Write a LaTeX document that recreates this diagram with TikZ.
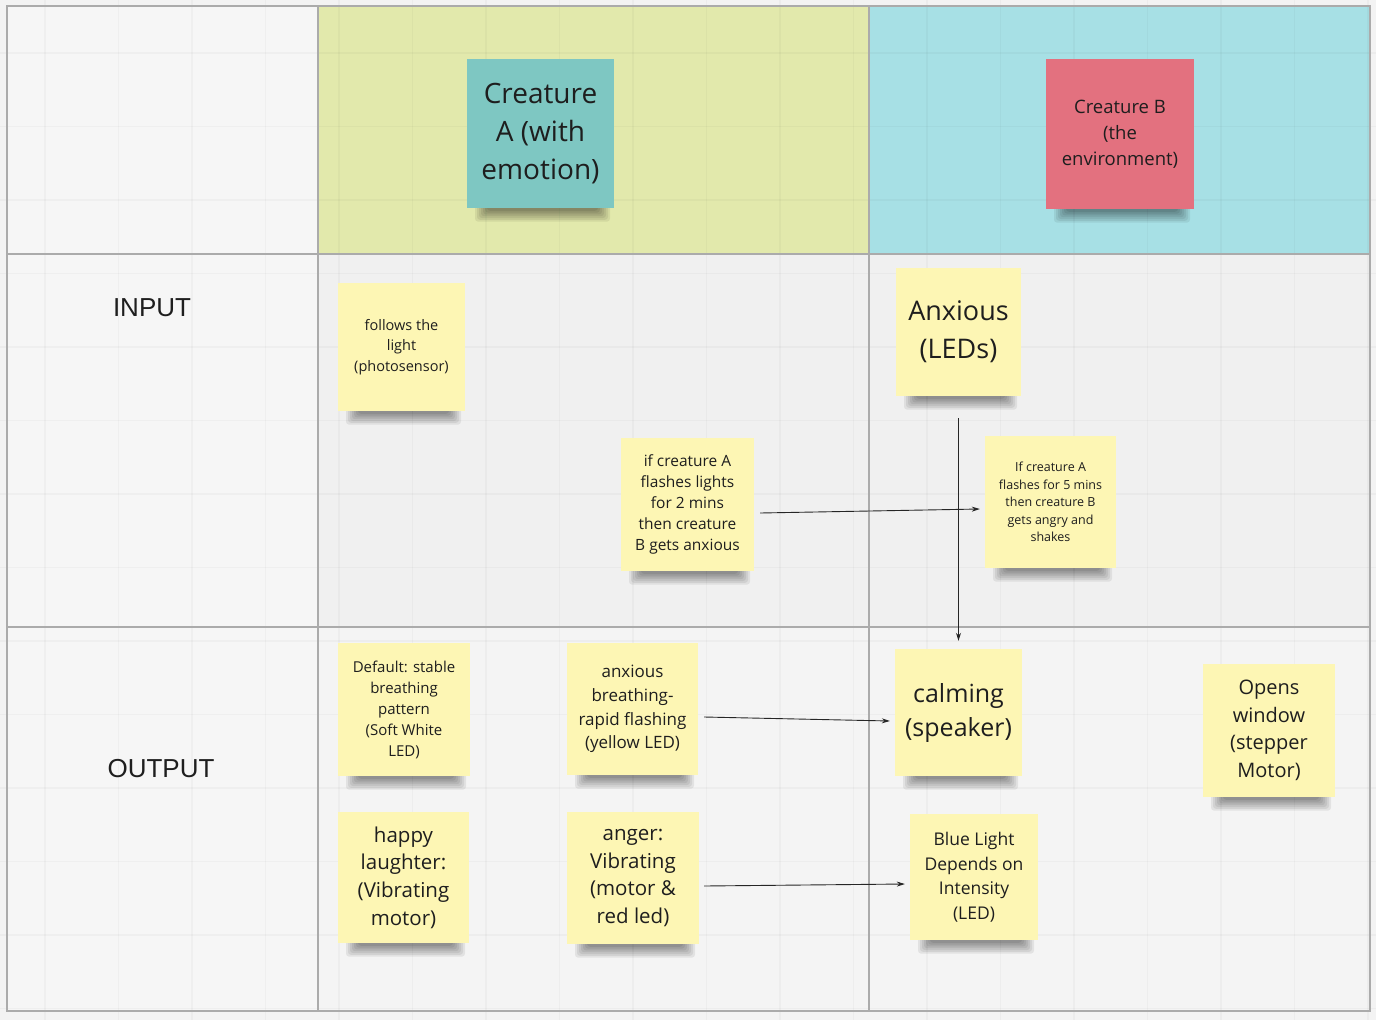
\documentclass[tikz,border=0pt]{standalone}
\usepackage{fontspec}
\setmainfont{Open Sans}
\newfontfamily\labelfont{Liberation Sans}
\usetikzlibrary{arrows.meta}
\definecolor{bgc}{HTML}{F3F3F3}
\definecolor{leftc}{HTML}{F6F6F6}
\definecolor{inrow}{HTML}{F0F0F0}
\definecolor{outrow}{HTML}{F4F4F4}
\definecolor{headA}{HTML}{E2E9AC}
\definecolor{headB}{HTML}{A7E0E5}
\definecolor{framec}{HTML}{ABABAB}
\definecolor{noteY}{HTML}{FDF6B4}
\definecolor{noteT}{HTML}{7EC7C2}
\definecolor{noteP}{HTML}{E3717F}
\definecolor{txt}{HTML}{1E1E1E}
\tikzset{
  note/.style={inner sep=0pt, align=center, text=txt},
  frameline/.style={draw=framec, line width=2.2pt},
  gridline/.style={draw=black, opacity=0.028, line width=1.4pt},
  conn/.style={-{Stealth[length=8pt,width=5pt]}, line width=0.9pt, draw=black!85},
  rowlabel/.style={font=\labelfont\fontsize{26}{30}\selectfont, text=txt},
  shadowlayer/.style={fill=black, opacity=0.07, rounded corners=3pt}
}
\newcommand\sticky[9]{%
  \foreach \s in {0,...,6} {
    \fill[shadowlayer] ({#2+8+2*\s},{#5-3}) rectangle ({#4-4-2*\s},{#5+1+1.8*(7-\s)});
  }
  \node[note,fill=#6,minimum width={#4-#2},minimum height={#5-#3},
        font=\fontsize{#7}{#8}\selectfont] (#1) at ({(#2+#4)/2},{(#3+#5)/2}) {#9};%
}
\begin{document}
\begin{tikzpicture}[x=1pt,y=-1pt]
\useasboundingbox (0,0) rectangle (1376,1020);
\fill[bgc] (0,0) rectangle (1376,1020);
% cells
\fill[leftc] (7,6) rectangle (318,1011);
\fill[headA] (318,6) rectangle (869,254);
\fill[headB] (869,6) rectangle (1370,254);
\fill[inrow] (318,254) rectangle (1370,627);
\fill[outrow] (318,627) rectangle (1370,1011);
% grid
\foreach \k in {0,...,18} { \draw[gridline] ({45+73.5*\k},0) -- ({45+73.5*\k},1020); }
\foreach \k in {0,...,13} { \draw[gridline] (0,{53+73.5*\k}) -- (1376,{53+73.5*\k}); }
% frame
\draw[frameline] (7,6) rectangle (1370,1011);
\draw[frameline] (318,6) -- (318,1011);
\draw[frameline] (869,6) -- (869,1011);
\draw[frameline] (7,254) -- (1370,254);
\draw[frameline] (7,627) -- (1370,627);
% row labels
\node[rowlabel] (inlabel) at (152,308) {INPUT};
\node[rowlabel] (outlabel) at (161,769) {OUTPUT};
% notes
\sticky{creA}{467}{59}{614}{208}{noteT}{28}{38}{Creature\\A (with\\emotion)}
\sticky{creB}{1046}{59}{1194}{209}{noteP}{18.5}{26}{Creature B\\(the\\environment)}
\sticky{follow}{338}{283}{465}{411}{noteY}{14.5}{20.5}{follows the\\light\\(photosensor)}
\sticky{anxious}{896}{268}{1021}{396}{noteY}{27}{38}{Anxious\\(LEDs)}
\sticky{flash2}{621}{438}{754}{571}{noteY}{15.5}{21.2}{if creature A\\flashes lights\\for 2 mins\\then creature\\B gets anxious}
\sticky{flash5}{985}{436}{1116}{568}{noteY}{12.5}{17.5}{If creature A\\flashes for 5 mins\\then creature B\\gets angry and\\shakes}
\sticky{default}{338}{643}{470}{776}{noteY}{15}{21}{Default: stable\\breathing\\pattern\\(Soft White\\LED)}
\sticky{breath}{567}{643}{698}{775}{noteY}{17}{23.7}{anxious\\breathing-\\rapid flashing\\(yellow LED)}
\sticky{calming}{895}{649}{1022}{776}{noteY}{25}{34}{calming\\(speaker)}
\sticky{window}{1203}{664}{1335}{797}{noteY}{20}{27.5}{Opens\\window\\(stepper\\Motor)}
\sticky{happy}{338}{812}{469}{943}{noteY}{20.5}{27.7}{happy\\laughter:\\(Vibrating\\motor)}
\sticky{anger}{567}{812}{699}{944}{noteY}{20.5}{27.7}{anger:\\Vibrating\\(motor \&\\red led)}
\sticky{blue}{910}{814}{1038}{940}{noteY}{17.5}{24.5}{Blue Light\\Depends on\\Intensity\\(LED)}
% connectors
\draw[conn] ([xshift=6pt,yshift=-8.5pt]flash2.east) -- ([xshift=-5pt,yshift=-7pt]flash5.west);
\draw[conn] ([yshift=-22pt]anxious.south) -- ([yshift=8pt]calming.north);
\draw[conn] ([xshift=6pt,yshift=-8pt]breath.east) -- ([xshift=-5pt,yshift=-8.5pt]calming.west);
\draw[conn] ([xshift=5pt,yshift=-8pt]anger.east) -- ([xshift=-5pt,yshift=-7pt]blue.west);
\end{tikzpicture}
\end{document}
